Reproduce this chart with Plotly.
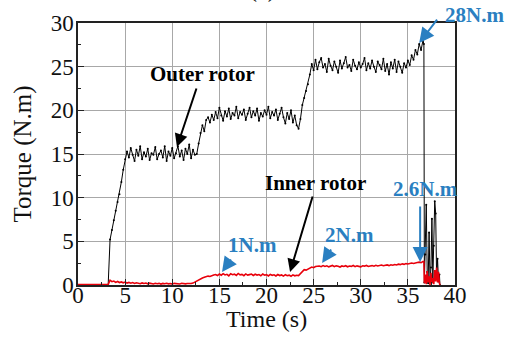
import plotly.graph_objects as go

# ---- data (sampled every 0.2 s from 0 to 36.6 s) ----
step_s = 0.2
outer_torque = [
    0, 0, 0, 0, 0, 0, 0, 0, 0, 0, 0, 0, 0, 0, 0, 0, 0,
    5.2, 6.3, 7.4, 8.5, 9.5, 10.4, 11.8, 13.2, 14.4,
    15.3, 14.6, 15.7, 14.9, 14.2, 15.5, 14.8, 15.9, 14.4, 15.2,
    14.7, 15.6, 14.3, 15.1, 14.9, 15.8, 14.4, 15.0, 15.4, 14.6,
    15.9, 14.2, 15.3, 14.8, 15.7, 14.5, 15.1, 15.9, 14.7, 15.4,
    14.3, 15.6, 15.0, 16.1, 14.5, 15.5, 14.9,
    15.0, 16.2, 17.4, 18.3, 17.6, 18.9,
    19.2, 18.6, 19.5, 18.9, 19.8, 19.1, 20.3, 19.4, 18.8, 19.9,
    19.3, 20.2, 19.0, 19.7, 19.4, 20.4, 19.1, 19.8, 19.5, 20.1,
    18.9, 19.6, 20.3, 19.2, 19.9, 19.4, 20.2, 18.8, 19.7, 19.3,
    20.0, 19.5, 20.4, 19.1, 19.8, 19.4, 20.1, 18.9, 19.6, 20.3,
    19.2, 18.5, 19.7, 19.0, 20.0, 18.6, 19.4, 18.3,
    17.9, 19.0, 20.6, 21.4, 22.2, 23.0, 24.1, 25.3, 24.6,
    25.8, 24.7, 25.5, 26.0, 24.9, 25.3, 24.4, 25.9, 25.1, 24.6,
    25.6, 25.0, 24.3, 25.7, 24.8, 25.4, 26.1, 24.9, 25.2, 24.5,
    25.8, 25.1, 24.7, 25.5, 24.9, 25.3, 26.0, 24.6, 25.4, 24.8,
    25.7, 25.0, 24.4, 25.6, 25.2, 24.7, 25.9, 24.5, 25.3, 24.1,
    25.5, 24.8, 25.8, 24.4, 25.6, 25.0, 24.3, 25.4, 24.9, 25.7, 25.2,
    26.3, 25.8, 26.9, 26.4, 27.6, 26.9, 28.0,
]
inner_torque = [
    0.05, 0.05, 0.05, 0.05, 0.05, 0.05, 0.05, 0.05, 0.05, 0.05, 0.05, 0.05, 0.05, 0.05, 0.05, 0.05, 0.05,
    0.55, 0.38, 0.45, 0.30, 0.40, 0.28, 0.35, 0.25, 0.33, 0.22,
    0.30, 0.20, 0.28, 0.18, 0.26, 0.21, 0.15, 0.24, 0.18, 0.22,
    0.14, 0.21, 0.17, 0.12, 0.20, 0.15, 0.19, 0.11, 0.18, 0.14,
    0.20, 0.13, 0.17, 0.10, 0.19, 0.14, 0.16, 0.12, 0.20, 0.15, 0.13, 0.18, 0.14, 0.17,
    0.22, 0.35, 0.48, 0.62, 0.70, 0.80, 0.88, 0.95, 1.02, 0.98, 1.10, 1.15,
    1.20, 1.08, 1.25, 1.12, 1.30, 1.15, 1.22, 1.05, 1.28, 1.18,
    1.24, 1.10, 1.32, 1.16, 1.21, 1.07, 1.27, 1.13, 1.19, 1.25,
    1.09, 1.23, 1.14, 1.20, 1.06, 1.26, 1.12, 1.18, 1.04, 1.22,
    1.11, 1.17, 1.03, 1.20, 1.08, 1.15, 1.02, 1.18, 1.06, 1.13, 1.00, 1.16, 1.05, 1.12, 1.08,
    1.30, 1.55, 1.75, 1.70, 1.85, 1.95, 2.05, 1.98, 2.12, 2.15,
    2.18, 2.10, 2.22, 2.12, 2.20, 2.08, 2.16, 2.24, 2.11, 2.19,
    2.14, 2.06, 2.18, 2.12, 2.21, 2.09, 2.17, 2.13, 2.23, 2.10,
    2.19, 2.14, 2.08, 2.20, 2.16, 2.24, 2.12, 2.18, 2.22, 2.15,
    2.26, 2.18, 2.23, 2.28, 2.20, 2.25, 2.30, 2.22, 2.32, 2.27,
    2.35, 2.29, 2.38, 2.33, 2.42, 2.36, 2.45, 2.40, 2.48, 2.52, 2.46, 2.55, 2.58, 2.62, 2.56, 2.68,
]
time_s = [round(i * step_s, 2) for i in range(len(outer_torque))]

# ---- stop transient (irregular samples) ----
tail_time = [36.7, 36.75, 36.85, 36.95, 37.05, 37.15, 37.25, 37.35, 37.45, 37.55,
             37.65, 37.75, 37.85, 37.95, 38.05, 38.15, 38.25, 38.35, 38.4]
tail_outer = [27.6, 0.3, 3.5, 9.2, 1.5, 0.2, 6.0, 0.5, 2.0, 7.6,
              0.6, 4.5, 9.6, 8.2, 0.8, 3.0, 0.4, 1.2, 0]
tail_inner = [2.7, 0.2, 1.2, 0.1, 1.6, 0.3, 1.0, 0.0, 1.4, 0.2,
              0.8, 0.1, 1.7, 0.4, 2.0, 0.3, 1.5, 0.2, 0]

x_ticks = [0, 5, 10, 15, 20, 25, 30, 35, 40]
y_ticks = [0, 5, 10, 15, 20, 25, 30]

# ---- annotations: (label, text x paper, text y paper, arrow tip x, tip y, ax px, ay px, colour) ----
BLUE = "#2a7fc1"
labels = [
    ("Outer rotor", 0.329, 0.805, 10.5, 15.8, 20, -60, "black"),
    ("Inner rotor", 0.631, 0.389, 22.5, 1.49, 23, -77, "black"),
    ("28N.m", 1.052, 1.031, 36.2, 27.7, 19, -25, BLUE),
    ("2.6N.m", 0.923, 0.366, 36.3, 2.63, 0, -57, BLUE),
    ("1N.m", 0.464, 0.153, 15.28, 1.49, 10, -14, BLUE),
    ("2N.m", 0.719, 0.191, 25.9, 2.52, 10, -15, BLUE),
]

SERIF = "Liberation Serif"

fig = go.Figure()
fig.add_trace(go.Scatter(
    x=time_s + tail_time, y=outer_torque + tail_outer, mode="lines+markers",
    line=dict(color="black", width=1), marker=dict(color="black", size=2),
    name="Outer rotor", showlegend=False))
fig.add_trace(go.Scatter(
    x=time_s + tail_time, y=inner_torque + tail_inner, mode="lines",
    line=dict(color="#e8000b", width=1.6), name="Inner rotor", showlegend=False))

annotations = []
for text, tx, ty, px, py, ax, ay, col in labels:
    annotations.append(dict(x=tx, y=ty, xref="paper", yref="paper", text=f"<b>{text}</b>",
                            xanchor="center", yanchor="middle",
                            showarrow=False, font=dict(family=SERIF, size=21, color=col)))
    annotations.append(dict(x=px, y=py, xref="x", yref="y", text="", showarrow=True,
                            ax=ax, ay=ay, arrowhead=2,
                            arrowsize=1.5 if col == BLUE else 1.3, arrowwidth=2,
                            arrowcolor=col))
annotations.append(dict(x=0.49, y=1.072, xref="paper", yref="paper", text="(c)",
                        showarrow=False, xanchor="center", yanchor="bottom",
                        font=dict(family=SERIF, size=24, color="black")))
annotations.append(dict(x=0.5, y=-0.13, xref="paper", yref="paper", text="Time (s)",
                        showarrow=False, xanchor="center", yanchor="middle",
                        font=dict(family=SERIF, size=24, color="#111")))

axis_common = dict(
    showline=True, mirror=True, linecolor="#222", linewidth=1.5,
    ticks="inside", ticklen=6, tickcolor="#222", tickwidth=1,
    showgrid=True, gridcolor="#a8a8a8", gridwidth=1, zeroline=False,
    tickfont=dict(family=SERIF, size=23, color="#111"),
    minor=dict(ticks="inside", ticklen=3, tickcolor="#222", showgrid=False),
    automargin=False,
)

fig.update_layout(
    width=511, height=338,
    margin=dict(l=78, r=56, t=23, b=53),
    paper_bgcolor="white", plot_bgcolor="white",
    font=dict(family=SERIF, color="#111"),
    annotations=annotations,
    xaxis=dict(range=[0, 40], tickvals=x_ticks, ticklabelstandoff=-11, **axis_common),
    yaxis=dict(range=[0, 30], tickvals=y_ticks, ticklabelstandoff=-2,
               title=dict(text="Torque (N.m)", standoff=12,
               font=dict(family=SERIF, size=25, color="#111")), **axis_common),
)
fig.update_xaxes(minor_dtick=2.5, minor_tick0=0)
fig.update_yaxes(minor_dtick=2.5, minor_tick0=0)

fig.write_html("out.html")
